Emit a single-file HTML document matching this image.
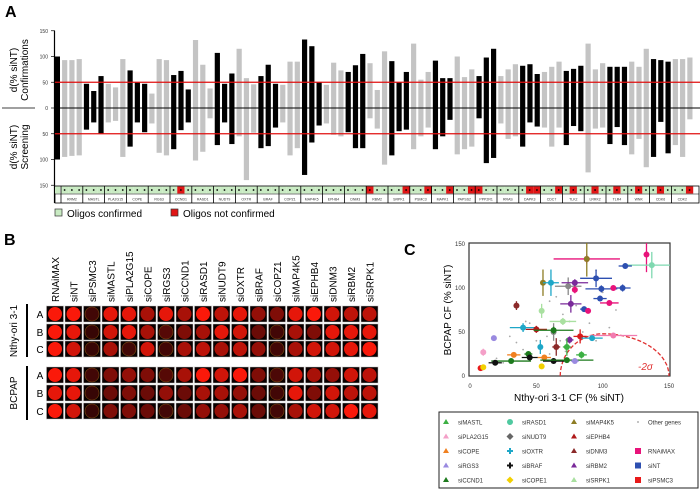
<!DOCTYPE html>
<html><head><meta charset="utf-8"><style>
html,body{margin:0;padding:0;background:#fff;}
svg{display:block;font-family:"Liberation Sans",Arial,sans-serif;}
</style></head><body>
<svg id="fig" width="700" height="499" viewBox="0 0 700 499" xmlns="http://www.w3.org/2000/svg">
<text x="5" y="17" font-size="16" font-weight="bold">A</text>
<text x="4" y="245" font-size="16" font-weight="bold">B</text>
<text x="404" y="255" font-size="16" font-weight="bold">C</text>
<g id="pa"></g>
<g id="pb"></g>
<g id="pc"></g>
</svg>
<script>
// ---------- Panel A data ----------
const confValues=[100,93,93,95,47,33,62,47,40,95,73,50,47,28,95,93,64,72,36,132,84,38,107,47,67,115,58,46,62,84,47,45,90,90,133,120,50,45,88,73,70,83,105,87,35,110,91,50,70,125,55,70,92,58,58,100,60,75,62,98,115,62,75,85,82,85,66,70,80,90,72,76,82,125,75,87,80,80,80,90,80,115,95,93,90,95,95,98];
const screenValues=[100,95,93,92,42,28,50,28,25,95,75,28,47,30,87,92,80,43,28,102,85,20,72,28,70,55,140,48,78,74,38,28,92,78,130,67,34,30,52,55,47,78,78,20,40,110,92,45,42,80,55,38,80,55,23,90,80,75,20,107,97,30,60,55,75,28,36,38,75,38,72,35,45,125,40,38,70,37,72,90,60,115,95,27,88,72,95,22];
const barBlack=[1,0,0,0,1,1,1,0,0,0,1,1,1,0,0,0,1,1,1,0,0,0,1,1,1,0,0,0,1,1,1,0,0,0,1,1,1,0,0,0,1,1,1,0,0,0,1,1,1,0,0,0,1,1,1,0,0,0,1,1,1,0,0,0,1,1,1,0,0,0,1,1,1,0,0,0,1,1,1,0,0,0,1,1,1,0,0,0];
const yTicksA=[150,100,50,0,50,100,150];
const yTickValsA=[150,100,50,0,-50,-100,-150];
const geneNames=["RRM2","MASTL","PLA2G15","COPE","RGS3","CCND1","RASD1","NUDT9","OXTR","BRAF","COPZ1","MAP4K5","EPHB4","DNM3","RBM2","SRPK1","PSMC3","MAPK1","PAPSS2","PPP2R1","RRAS","DAPK3","CDC7","TLK2","LRRK2","TLR4","WNK","CDK6","CDK2"];
const oligoRed=[[0,0,0],[0,0,0],[0,0,0],[0,0,0],[0,0,0],[0,1,0],[0,0,0],[0,0,0],[0,0,0],[0,0,0],[0,0,0],[0,0,0],[0,0,0],[0,0,0],[1,0,0],[0,0,1],[0,0,1],[0,0,1],[0,0,1],[1,0,0],[0,0,0],[0,1,1],[0,0,1],[0,1,0],[0,1,0],[0,1,0],[0,1,0],[0,1,0],[0,0,1]];

// ---------- Panel B data ----------
const wellCols=["RNAiMAX","siNT","siPSMC3","siMASTL","siPLA2G15","siCOPE","siRGS3","siCCND1","siRASD1","siNUDT9","siOXTR","siBRAF","siCOPZ1","siMAP4K5","siEPHB4","siDNM3","siRBM2","siSRPK1"];
const wellRows=["A","B","C","A","B","C"];
const wellIntensity=[
[1,1,0.1,0.9,0.9,0.6,0.9,0.6,1,0.7,0.9,0.5,0.4,0.9,1,0.8,0.7,0.7],
[1,0.9,0.05,0.8,0.9,0.6,0.2,0.4,0.6,0.9,0.8,0.3,0.1,0.6,0.4,0.9,0.9,0.9],
[1,0.8,0.05,0.6,0.1,0.8,0.1,0.6,0.7,0.6,0.7,0.5,0.1,0.6,0.8,0.8,0.9,1],
[1,0.9,0.1,0.4,0.5,0.4,0.2,0.6,1,0.8,1,0.4,0.15,0.8,0.6,0.5,0.8,0.7],
[0.9,0.9,0.05,0.3,0.4,0.3,0.5,0.3,0.6,0.6,0.5,0.3,0.1,0.9,0.4,0.8,0.7,0.7],
[1,0.8,0.05,0.4,0.4,0.3,0.1,0.3,0.5,0.5,0.6,0.3,0.1,0.6,0.8,0.8,1,0.9]];

// ---------- Panel C data ----------
const ptX=[133,137,117,88,88,55,61,74,79,79,95,99,115,108,98,105,76,86,89,35,54,70,40,50,63,63,108,83,75,92,73,84,65,53,18,10,33,56,44,45,63,31,73,19,8,10,54,79];
const ptY=[138,126,125,133,133,106,106,102,106,98,111,99,100,100,88,83,82,76,74,80,74,62,55,53,50,52,46,45,41,43,33,24,33,33,43,27,24,21,25,21,17,17,18,15,9,10,11,17];
const ptXErr=[0,20,5,25,0,0,6,10,10,0,12,12,6,0,5,7,8,3,0,0,0,10,10,8,0,15,18,5,3,8,3,4,3,0,0,0,5,5,3,6,8,15,20,5,2,2,0,3];
const ptYErr=[20,15,3,5,20,15,15,10,4,4,10,4,4,0,3,3,10,3,3,5,8,4,5,4,10,4,3,8,4,3,10,4,10,8,2,4,2,2,3,3,3,2,2,3,2,2,2,2];
const ptColor=["#e8137a","#7fd8b0","#2d4fb0","#e8137a","#8d7d24","#8d7d24","#1ea7c8","#888","#7a2a9a","#e8137a","#2d4fb0","#2d4fb0","#2d4fb0","#e8137a","#2d4fb0","#e8137a","#7a2a9a","#2d4fb0","#e8137a","#8b2a2a","#a9e0a0","#a9e0a0","#1ea7c8","#b01a1a","#888","#1d7a1d","#f27bb0","#d81a1a","#7a2a9a","#1ea7c8","#3cb043","#3cb043","#8b2a2a","#1ea7c8","#9a8ae0","#f4a0c8","#f08020","#f08020","#1d7a1d","#111","#111","#1d7a1d","#1d7a1d","#111","#e81a1a","#f2d000","#f2d000","#9a8ae0"];
const otherX=[95,100,110,60,65,45,70,80,90,85,50,58,40,30,20,25,75,95,105,60,72,68,35,42,55];
const otherY=[120,95,75,85,90,60,70,80,60,50,40,45,30,45,20,15,62,40,55,25,28,40,38,62,75];
const xTicksC=[0,50,100,150];
const yTicksC=[0,50,100,150];
const legendLabels=["siMASTL","siRASD1","siMAP4K5","Other genes","siPLA2G15","siNUDT9","siEPHB4","","siCOPE","siOXTR","siDNM3","RNAiMAX","siRGS3","siBRAF","siRBM2","siNT","siCCND1","siCOPE1","siSRPK1","siPSMC3"];
const legendColors=["#3cb043","#4fc9a0","#8d7d24","#999","#f4a0c8","#666","#b01a1a","","#f08020","#1ea7c8","#8b2a2a","#e8137a","#9a8ae0","#111","#7a2a9a","#2d4fb0","#1d7a1d","#f2d000","#a9e0a0","#e81a1a"];
const legendShape=["tri","circ","tri","dot","tri","diam","tri","","tri","plus","tri","sq","tri","plus","tri","sq","tri","diam","tri","sq"];

const NS="http://www.w3.org/2000/svg";
function mk(tag,attrs,parent){const e=document.createElementNS(NS,tag);for(const k in attrs)e.setAttribute(k,attrs[k]);parent.appendChild(e);return e;}

// ===== Panel A =====
const pa=document.getElementById('pa');
const yA=v=>108-v*0.515;
const xA=i=>57.4+i*7.27;
yTickValsA.forEach((v,i)=>{
  const t=mk('text',{x:48,y:yA(v)+2,'font-size':5,'text-anchor':'end',fill:'#333'},pa);
  
  
  t.textContent=yTicksA[i];
  mk('line',{x1:51,x2:55,y1:yA(v),y2:yA(v),stroke:'#000','stroke-width':0.7},pa);
});
mk('line',{x1:54.5,x2:54.5,y1:yA(150),y2:203,stroke:'#000','stroke-width':1.2},pa);
confValues.forEach((v,i)=>{
  const r=mk('rect',{x:xA(i)-2.6,y:yA(v),width:5.2,height:yA(-screenValues[i])-yA(v),fill:barBlack[i]?'#000':'#c4c4c4'},pa);
  
  
});
mk('line',{x1:55,x2:700,y1:yA(0),y2:yA(0),stroke:'#000','stroke-width':1},pa);
mk('line',{x1:2,x2:35,y1:yA(0),y2:yA(0),stroke:'#000','stroke-width':0.8},pa);
[50,-50].forEach(v=>{const l=mk('line',{x1:55,x2:700,y1:yA(v),y2:yA(v),stroke:'#e01010','stroke-width':1.3},pa);});
let t1=mk('text',{transform:'translate(17,70) rotate(-90)','font-size':10,'text-anchor':'middle'},pa);

t1.innerHTML='<tspan x="0" dy="0">d(% siNT)</tspan><tspan x="0" dy="11">Confirmations</tspan>';
let t2=mk('text',{transform:'translate(17,147) rotate(-90)','font-size':10,'text-anchor':'middle'},pa);

t2.innerHTML='<tspan x="0" dy="0">d(% siNT)</tspan><tspan x="0" dy="11">Screening</tspan>';
// strip
mk('rect',{x:55,y:186,width:644,height:17,fill:'#fff',stroke:'#000','stroke-width':0.8},pa);
mk('rect',{x:55,y:186.5,width:5,height:7,fill:'#c9ebc3'},pa);
geneNames.forEach((g,gi)=>{
  const x0=61+gi*21.8;
  for(let k=0;k<3;k++){
    const c=mk('rect',{x:x0+k*7.27,y:186.5,width:7.27,height:7,fill:oligoRed[gi][k]?'#e01515':'#c9ebc3'},pa);
    
    mk('circle',{cx:x0+k*7.27+3.6,cy:190,r:0.9,fill:'#000'},pa);
  }
  mk('line',{x1:x0,x2:x0,y1:186,y2:203,stroke:'#000','stroke-width':0.8},pa);
  const t=mk('text',{x:x0+10.9,y:200.5,'font-size':3.5,'text-anchor':'middle',fill:'#333'},pa);
  
  t.textContent=g;
});
mk('line',{x1:55,x2:699,y1:194,y2:194,stroke:'#000','stroke-width':0.6},pa);
let lg1=mk('rect',{x:55,y:209,width:7,height:7,fill:'#c9ebc3',stroke:'#333','stroke-width':0.7},pa);

let lt1=mk('text',{x:67,y:217,'font-size':10},pa);lt1.textContent='Oligos confirmed';

let lg2=mk('rect',{x:171,y:209,width:7,height:7,fill:'#e01515',stroke:'#333','stroke-width':0.7},pa);

let lt2=mk('text',{x:183,y:217,'font-size':10},pa);lt2.textContent='Oligos not confirmed';


// ===== Panel B =====
const pb=document.getElementById('pb');
const colX=i=>55+i*18.5;
const rowY=[314,332,349,375,393,411];
wellCols.forEach((c,i)=>{
  const t=mk('text',{transform:`translate(${colX(i)+4},302) rotate(-90)`,'font-size':10},pb);
  
  t.textContent=c;
});
wellIntensity.forEach((row,r)=>{
  row.forEach((v,c)=>{
    const x=colX(c),y=rowY[r];
    mk('rect',{x:x-9,y:y-8.5,width:18,height:17,fill:'#ddd'},pb);
    const w=mk('rect',{x:x-8.3,y:y-7.8,width:16.6,height:15.6,fill:'#0a0000'},pb);
    
    const rr=Math.round(45+205*v),gg=Math.round(5+20*v);
    mk('circle',{cx:x,cy:y,r:7,fill:`rgb(${rr},${gg},${Math.round(5+5*v)})`,stroke:v<0.3?'#7a4a10':'none','stroke-width':0.6},pb);
  });
  const t=mk('text',{x:40,y:rowY[r]+4,'font-size':10,'text-anchor':'middle'},pb);
  
  t.textContent=wellRows[r];
});
mk('rect',{x:26,y:304,width:2,height:53,fill:'#000'},pb);
mk('rect',{x:26,y:366,width:2,height:54,fill:'#000'},pb);
let cl1=mk('text',{transform:'translate(17,331) rotate(-90)','font-size':10,'text-anchor':'middle'},pb);
cl1.textContent='Nthy-ori 3-1';
let cl2=mk('text',{transform:'translate(17,393) rotate(-90)','font-size':10,'text-anchor':'middle'},pb);
cl2.textContent='BCPAP';

// ===== Panel C =====
const pc=document.getElementById('pc');
const xC=v=>470+v*1.327;
const yC=v=>376-v*0.88;
mk('rect',{x:469,y:243,width:201,height:133,fill:'#fff',stroke:'#333','stroke-width':1.2},pc);
xTicksC.forEach(v=>{const t=mk('text',{x:xC(v),y:388,'font-size':6,'text-anchor':'middle',fill:'#333'},pc);t.textContent=v;});
yTicksC.forEach(v=>{const t=mk('text',{x:465,y:yC(v)+2,'font-size':6,'text-anchor':'end',fill:'#333'},pc);t.textContent=v;});
let xt=mk('text',{x:569,y:401,'font-size':10,'text-anchor':'middle'},pc);xt.textContent='Nthy-ori 3-1 CF (% siNT)';

let yt=mk('text',{transform:'translate(451,310) rotate(-90)','font-size':10,'text-anchor':'middle'},pc);yt.textContent='BCPAP CF (% siNT)';

otherX.forEach((v,i)=>{const d=mk('circle',{cx:xC(v),cy:yC(otherY[i]),r:0.9,fill:'#aaa'},pc);});
// -2 sigma curve
let curve='';for(let a=0;a<=90;a+=5){const r=a*Math.PI/180;const vx=100-32*Math.cos(r)*(1),vy=48*Math.sin(r);curve+=(a?'L':'M')+xC(vx).toFixed(1)+','+yC(vy).toFixed(1);}
for(let a=90;a>=0;a-=5){const r=a*Math.PI/180;const vx=100+50*Math.cos(r),vy=48*Math.sin(r);curve+='L'+xC(vx).toFixed(1)+','+yC(vy).toFixed(1);}
let cv=mk('path',{d:curve,fill:'none',stroke:'#e03030','stroke-width':1.3,'stroke-dasharray':'4,2'},pc);

let sg=mk('text',{x:638,y:370,'font-size':10,'font-style':'italic',fill:'#e03030'},pc);sg.textContent='-2σ';

ptX.forEach((v,i)=>{
  const cx=xC(v),cy=yC(Math.min(ptY[i],148)),col=ptColor[i];
  if(ptXErr[i])mk('line',{x1:xC(v-ptXErr[i]),x2:Math.min(670,xC(v+ptXErr[i])),y1:cy,y2:cy,stroke:col,'stroke-width':1.3},pc);
  if(ptYErr[i])mk('line',{x1:cx,x2:cx,y1:Math.max(243,yC(ptY[i]+ptYErr[i])),y2:yC(ptY[i]-ptYErr[i]),stroke:col,'stroke-width':1.3},pc);
  const p=mk('circle',{cx:cx,cy:cy,r:3,fill:col},pc);
  
});
// legend
mk('rect',{x:439,y:412,width:259,height:76,fill:'#fff',stroke:'#222','stroke-width':1},pc);
legendLabels.forEach((lab,i)=>{
  if(!lab)return;
  const col=i%4,row=Math.floor(i/4);
  const x=446+col*64,y=422+row*14.5;
  const c=legendColors[i],s=legendShape[i];
  let m;
  if(s==='tri')m=mk('path',{d:`M${x},${y-3}L${x+3},${y+2}L${x-3},${y+2}Z`,fill:c},pc);
  else if(s==='sq')m=mk('rect',{x:x-3,y:y-3,width:6,height:6,fill:c},pc);
  else if(s==='diam')m=mk('path',{d:`M${x},${y-3.5}L${x+3.5},${y}L${x},${y+3.5}L${x-3.5},${y}Z`,fill:c},pc);
  else if(s==='plus')m=mk('path',{d:`M${x-3},${y}H${x+3}M${x},${y-3}V${y+3}`,stroke:c,'stroke-width':2},pc);
  else if(s==='dot')m=mk('circle',{cx:x,cy:y,r:0.9,fill:c},pc);
  else m=mk('circle',{cx:x,cy:y,r:3,fill:c},pc);
  
  
  const t=mk('text',{x:x+(col===3?10:12),y:y+2.5,'font-size':6,fill:'#333'},pc);
  
  
  t.textContent=lab;
});
</script>
</body></html>
